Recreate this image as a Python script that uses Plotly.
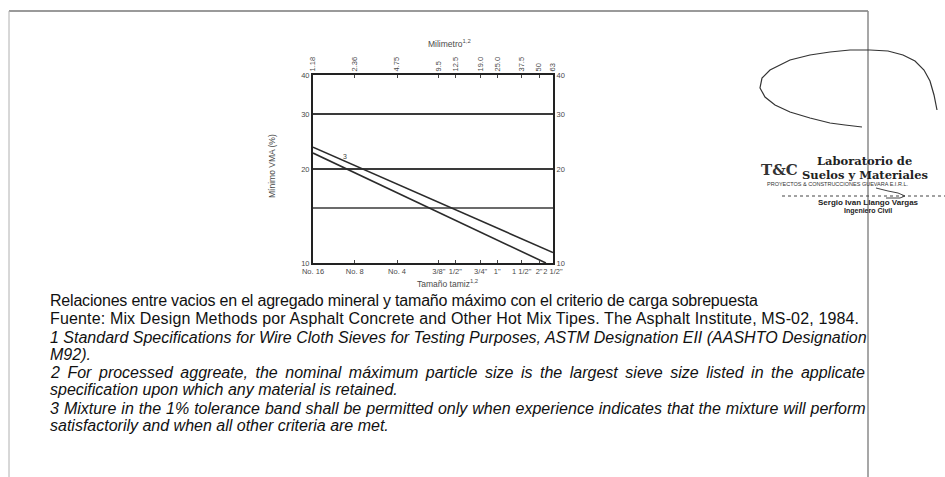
import math
import plotly.graph_objects as go

# --- data -----------------------------------------------------------------
sieve_mm = [1.18, 2.36, 4.75, 9.5, 12.5, 19.0, 25.0, 37.5, 50, 63]
mm_labels = ["1.18", "2.36", "4.75", "9.5", "12.5", "19.0", "25.0", "37.5", "50", "63"]
sieve_names = ["No. 16", "No. 8", "No. 4", '3/8"', '1/2"', '3/4"', '1"', '1 1/2"', '2"', '2 1/2"']

# minimum VMA band (upper and lower limit of the 1 % tolerance band)
upper_size = [1.18, 63]
upper_vma = [23.5, 10.8]
lower_size = [1.18, 56]
lower_vma = [22.5, 10.0]

vma_ticks = [10, 20, 30, 40]
vma_extra_grid = [15]          # unlabelled grid line

# caption lines: (text, italic, letter spacing px, word spacing px)
caption_lines = [
    ("Relaciones entre vacios en el agregado mineral y tamaño máximo con el criterio de carga sobrepuesta", False, -0.2, 0),
    ("Fuente: Mix Design Methods por Asphalt Concrete and Other Hot Mix Tipes. The Asphalt Institute, MS-02, 1984.", False, 0.15, 0),
    ("1 Standard Specifications for Wire Cloth Sieves for Testing Purposes, ASTM Designation EII (AASHTO Designation", True, 0, 0),
    ("M92).", True, 0, 0),
    ("2 For processed aggreate, the nominal máximum particle size is the largest sieve size listed in the applicate", True, 0, 3.1),
    ("specification upon which any material is retained.", True, 0, 0),
    ("3 Mixture in the 1% tolerance band shall be permitted only when experience indicates that the mixture will perform", True, 0, 0.55),
    ("satisfactorily and when all other criteria are met.", True, 0, 0),
]
caption_y = [300, 318, 337, 354, 372, 389, 408, 425]

# --- page geometry ----------------------------------------------------------
W, H = 945, 477
PL, PR, PT, PB = 313, 553, 75, 263


def px(x):
    return (x - PL) / (PR - PL)


def py(y):
    return (PB - y) / (PB - PT)


AX_FONT = dict(family="Liberation Sans, Arial, sans-serif", size=7.5, color="#4a4a4a")
LINE = "#2b2b2b"
GRID = "#3a3a3a"

fig = go.Figure()
fig.add_trace(go.Scatter(x=upper_size, y=upper_vma, mode="lines",
                         line=dict(color=LINE, width=1.6), showlegend=False,
                         hoverinfo="skip"))
fig.add_trace(go.Scatter(x=lower_size, y=lower_vma, mode="lines",
                         line=dict(color=LINE, width=1.6), showlegend=False,
                         hoverinfo="skip"))
# companion trace so the top and right axes are drawn
fig.add_trace(go.Scatter(x=upper_size, y=upper_vma, xaxis="x2", yaxis="y2",
                         mode="lines", line=dict(width=0), opacity=0,
                         showlegend=False, hoverinfo="skip"))

xrange = [math.log10(sieve_mm[0]), math.log10(sieve_mm[-1])]
yrange = [1, math.log10(40)]

common_x = dict(type="log", range=xrange, tickvals=sieve_mm, ticks="inside",
                ticklen=3, tickwidth=1, tickcolor="#444", showgrid=False,
                zeroline=False, showline=True, linecolor="#222", linewidth=2,
                tickfont=AX_FONT)
common_y = dict(type="log", range=yrange, tickvals=vma_ticks,
                ticktext=[str(v) for v in vma_ticks], ticks="", zeroline=False,
                showline=True, linecolor="#222", linewidth=2, tickfont=AX_FONT)

fig.update_layout(
    width=W, height=H, autosize=False,
    margin=dict(l=PL, r=W - PR, t=PT, b=H - PB, pad=0),
    paper_bgcolor="white", plot_bgcolor="white",
    xaxis=dict(**common_x, ticktext=sieve_names, side="bottom", tickangle=0),
    xaxis2=dict(**common_x, ticktext=mm_labels, side="top", overlaying="x",
                tickangle=-90),
    yaxis=dict(**common_y, side="left", showgrid=True, gridcolor=GRID,
               gridwidth=1.5),
    yaxis2=dict(**common_y, side="right", overlaying="y", showgrid=False),
)

TITLE_FONT = dict(family="Liberation Sans, Arial", size=8.5, color="#4a4a4a")
ann = []
# axis titles
ann.append(dict(x=px(449), y=py(44), text="Milimetro<sup>1,2</sup>", font=TITLE_FONT))
ann.append(dict(x=px(447), y=py(283), text="Tamaño tamiz<sup>1,2</sup>", font=TITLE_FONT))
ann.append(dict(x=px(272), y=py(166), text="Mínimo VMA (%)", textangle=-90,
                font=TITLE_FONT))
# band label
ann.append(dict(x=px(345), y=py(156), text="3",
                font=dict(family="Liberation Sans, Arial", size=7, color="#444")))

# caption text under the chart
cap_font = dict(family="Liberation Sans, Arial, sans-serif", size=16, color="#111")
for (t, italic, ls, ws), yy in zip(caption_lines, caption_y):
    txt = f'<span style="letter-spacing:{ls}px;word-spacing:{ws}px">{t}</span>'
    if italic:
        txt = f"<i>{txt}</i>"
    ann.append(dict(x=px(48), y=py(yy), text=txt, xanchor="left", font=cap_font))

# stamp texts
SERIF = "DejaVu Serif, serif"
ann.append(dict(x=px(779), y=py(170), text="<b>T&C</b>",
                font=dict(family=SERIF, size=15, color="#333")))
ann.append(dict(x=px(815), y=py(161), text="<b>Laboratorio de</b>", xanchor="left",
                font=dict(family=SERIF, size=11.5, color="#222")))
ann.append(dict(x=px(800), y=py(175), text="<b>Suelos y Materiales</b>", xanchor="left",
                font=dict(family=SERIF, size=11.5, color="#222")))
ann.append(dict(x=px(765), y=py(184),
                text="PROYECTOS & CONSTRUCCIONES GUEVARA E.I.R.L.", xanchor="left",
                font=dict(family="Liberation Sans, Arial", size=5.5, color="#333")))
ann.append(dict(x=px(868), y=py(202), text="<b>Sergio Ivan Llango Vargas</b>",
                font=dict(family="Liberation Sans Narrow, Liberation Sans, Arial", size=8, color="#222")))
ann.append(dict(x=px(868), y=py(211), text="<b>Ingeniero Civil</b>",
                font=dict(family="Liberation Sans Narrow, Liberation Sans, Arial", size=7, color="#222")))

for a in ann:
    a.setdefault("xref", "paper")
    a.setdefault("yref", "paper")
    a.setdefault("xanchor", "center")
    a.setdefault("yanchor", "middle")
    a.setdefault("showarrow", False)
fig.update_layout(annotations=ann)


def path_from(points):
    """SVG path through pixel points, expressed in paper units."""
    d = f"M {px(points[0][0]):.4f},{py(points[0][1]):.4f}"
    for (x, y) in points[1:]:
        d += f" L {px(x):.4f},{py(y):.4f}"
    return d


shapes = []
# unlabelled grid line(s) on the VMA axis
for v in vma_extra_grid:
    shapes.append(dict(type="line", xref="paper", yref="y", x0=0, x1=1,
                       y0=v, y1=v, layer="below",
                       line=dict(color=GRID, width=1.5)))

# page frame
shapes.append(dict(type="line", x0=px(9), x1=px(868), y0=py(11), y1=py(11),
                   line=dict(color="#9a9a9a", width=2)))
shapes.append(dict(type="line", x0=px(9), x1=px(9), y0=py(11), y1=py(477),
                   line=dict(color="#b0b0b0", width=1)))
shapes.append(dict(type="line", x0=px(868), x1=px(868), y0=py(11), y1=py(477),
                   line=dict(color="#8a8a8a", width=1.5)))

# signature stroke
sig = [(862, 127), (845, 125), (830, 123), (810, 118), (790, 112), (775, 105),
       (765, 97), (760, 88), (762, 78), (770, 70), (790, 60), (810, 55),
       (830, 52), (850, 50), (870, 50), (888, 51), (903, 55), (915, 61),
       (924, 70), (930, 81), (934, 95), (937, 110)]
shapes.append(dict(type="path", path=path_from(sig),
                   line=dict(color="#333", width=1.2)))
tail = [(876, 188), (888, 191), (898, 193), (905, 196), (900, 198), (886, 198)]
shapes.append(dict(type="path", path=path_from(tail),
                   line=dict(color="#444", width=1)))
# signature line of the stamp
shapes.append(dict(type="line", x0=px(782), x1=px(945), y0=py(196), y1=py(196),
                   line=dict(color="#444", width=1, dash="dot")))

for s in shapes:
    s.setdefault("xref", "paper")
    s.setdefault("yref", "paper")
fig.update_layout(shapes=shapes)

fig.write_html("out.html")
